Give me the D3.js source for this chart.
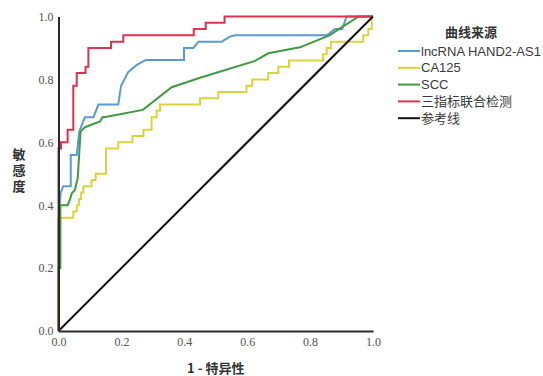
<!DOCTYPE html>
<html>
<head>
<meta charset="utf-8">
<script src="https://cdn.jsdelivr.net/npm/d3@7"></script>
<style>
  body { margin: 0; background: #fff; }
</style>
</head>
<body>
<div id="roc"></div>
<script>
"use strict";

// legend / series names
const curveNames = ["lncRNA HAND2-AS1", "CA125", "SCC", "三指标联合检测", "参考线"];
const curveColors = ["#5b9bd5", "#dcd43c", "#3f9a41", "#e0314f", "#111111"];

const tickVals = [0, 0.2, 0.4, 0.6, 0.8, 1.0];

// 1 - specificity (x) / sensitivity (y)
const hand2X = [0, 0, 0.007, 0.015, 0.039, 0.039, 0.058, 0.066, 0.084, 0.111, 0.127, 0.19, 0.199, 0.222, 0.249, 0.278, 0.399, 0.399, 0.429, 0.445, 0.519, 0.545, 0.561, 0.853, 0.879, 0.902, 0.916, 1];
const hand2Y = [0, 0.35, 0.44, 0.46, 0.46, 0.56, 0.56, 0.634, 0.68, 0.68, 0.72, 0.72, 0.78, 0.824, 0.846, 0.862, 0.862, 0.9, 0.9, 0.92, 0.92, 0.936, 0.94, 0.94, 0.96, 0.96, 1, 1];

const ca125X = [0, 0, 0.047, 0.047, 0.058, 0.058, 0.065, 0.065, 0.072, 0.072, 0.079, 0.079, 0.105, 0.105, 0.118, 0.118, 0.151, 0.151, 0.19, 0.19, 0.235, 0.235, 0.27, 0.27, 0.296, 0.296, 0.312, 0.312, 0.323, 0.323, 0.45, 0.45, 0.508, 0.508, 0.598, 0.598, 0.616, 0.616, 0.667, 0.667, 0.699, 0.699, 0.733, 0.733, 0.841, 0.841, 0.853, 0.853, 0.866, 0.866, 0.969, 0.969, 0.985, 0.985, 0.996, 0.996, 1];
const ca125Y = [0, 0.36, 0.36, 0.38, 0.38, 0.4, 0.4, 0.42, 0.42, 0.44, 0.44, 0.46, 0.46, 0.48, 0.48, 0.5, 0.5, 0.58, 0.58, 0.6, 0.6, 0.62, 0.62, 0.64, 0.64, 0.68, 0.68, 0.7, 0.7, 0.72, 0.72, 0.74, 0.74, 0.76, 0.76, 0.78, 0.78, 0.8, 0.8, 0.82, 0.82, 0.84, 0.84, 0.86, 0.86, 0.88, 0.88, 0.9, 0.9, 0.92, 0.92, 0.94, 0.94, 0.96, 0.96, 1, 1];

const sccX = [0, 0, 0.006, 0.006, 0.029, 0.037, 0.042, 0.052, 0.061, 0.065, 0.07, 0.084, 0.132, 0.14, 0.153, 0.268, 0.36, 0.45, 0.625, 0.667, 0.768, 0.863, 0.895, 0.955, 1];
const sccY = [0, 0.2, 0.2, 0.4, 0.4, 0.42, 0.438, 0.448, 0.485, 0.549, 0.634, 0.648, 0.666, 0.68, 0.681, 0.703, 0.775, 0.805, 0.859, 0.883, 0.902, 0.941, 0.962, 1, 1];

const comboX = [0, 0, 0.008, 0.008, 0.029, 0.029, 0.047, 0.047, 0.058, 0.058, 0.086, 0.086, 0.095, 0.095, 0.167, 0.167, 0.206, 0.206, 0.43, 0.43, 0.468, 0.468, 0.528, 0.528, 1];
const comboY = [0, 0.58, 0.58, 0.6, 0.6, 0.64, 0.64, 0.78, 0.78, 0.82, 0.82, 0.84, 0.84, 0.9, 0.9, 0.92, 0.92, 0.94, 0.94, 0.96, 0.96, 0.98, 0.98, 1, 1];

const refX = [0, 1];
const refY = [0, 1];

const W = 543;
const H = 376;
const plot = { left: 58.5, top: 16.5, right: 373, bottom: 331 };

const zip = (xs, ys) => xs.map((x, i) => ({ x: x, y: ys[i] }));
const curves = [
  zip(hand2X, hand2Y),
  zip(ca125X, ca125Y),
  zip(sccX, sccY),
  zip(comboX, comboY),
  zip(refX, refY),
];

const svg = d3
  .select("#roc")
  .append("svg")
  .attr("width", W)
  .attr("height", H);

const x = d3.scaleLinear().domain([0, 1]).range([plot.left, plot.right]);
const y = d3.scaleLinear().domain([0, 1]).range([plot.bottom, plot.top]);

const line = d3
  .line()
  .x((d) => x(d.x))
  .y((d) => y(d.y));

// curves
svg
  .append("g")
  .selectAll("path")
  .data(curves)
  .enter()
  .append("path")
  .attr("d", line)
  .attr("fill", "none")
  .attr("stroke", (d, i) => curveColors[i])
  .attr("stroke-width", 2)
  .attr("stroke-linejoin", "miter");

// axes
const xAxis = svg
  .append("g")
  .attr("transform", `translate(0,${plot.bottom})`)
  .call(
    d3.axisBottom(x).tickValues(tickVals).tickFormat(d3.format(".1f")).tickSize(0).tickPadding(6)
  );
const yAxis = svg
  .append("g")
  .attr("transform", `translate(${plot.left},0)`)
  .call(
    d3.axisLeft(y).tickValues(tickVals).tickFormat(d3.format(".1f")).tickSize(0).tickPadding(5)
  );

[xAxis, yAxis].forEach((g) => {
  g.attr("font-family", "'Liberation Serif', 'DejaVu Serif', serif");
  g.select(".domain").attr("stroke", "#2a2a2a").attr("stroke-width", 2);
  g.selectAll("text")
    .style("font-family", "'Liberation Serif', 'DejaVu Serif', serif")
    .attr("font-size", "12px")
    .attr("fill", "#555");
});

// axis titles
svg
  .append("text")
  .attr("x", (plot.left + plot.right) / 2)
  .attr("y", 373)
  .attr("text-anchor", "middle")
  .attr("font-family", "'Noto Sans CJK SC', sans-serif")
  .attr("font-size", "13px")
  .attr("font-weight", "bold")
  .attr("fill", "#333")
  .text("1 - 特异性");

// vertical, stacked y title
svg
  .append("text")
  .attr("x", 19)
  .attr("y", 172)
  .attr("text-anchor", "middle")
  .style("writing-mode", "vertical-rl")
  .style("letter-spacing", "3px")
  .attr("font-family", "'Noto Sans CJK SC', sans-serif")
  .attr("font-size", "13px")
  .attr("font-weight", "bold")
  .attr("fill", "#333")
  .text("敏感度");

// legend
const legend = svg.append("g");
legend
  .append("text")
  .attr("x", 471)
  .attr("y", 37)
  .attr("text-anchor", "middle")
  .attr("font-family", "'Noto Sans CJK SC', sans-serif")
  .attr("font-size", "13px")
  .attr("font-weight", "bold")
  .attr("fill", "#333")
  .text("曲线来源");

const items = legend
  .selectAll("g.item")
  .data(curveNames)
  .enter()
  .append("g")
  .attr("class", "item")
  .attr("transform", (d, i) => `translate(398,${51 + i * 16.8})`);

items
  .append("line")
  .attr("x1", 0)
  .attr("x2", 22)
  .attr("stroke", (d, i) => curveColors[i])
  .attr("stroke-width", 2);

items
  .append("text")
  .attr("x", 23)
  .attr("dy", "0.36em")
  .attr("font-family", "'Liberation Sans', 'Noto Sans CJK SC', sans-serif")
  .attr("font-size", "13px")
  .attr("fill", "#3a3a3a")
  .text((d) => d);
</script>
</body>
</html>
